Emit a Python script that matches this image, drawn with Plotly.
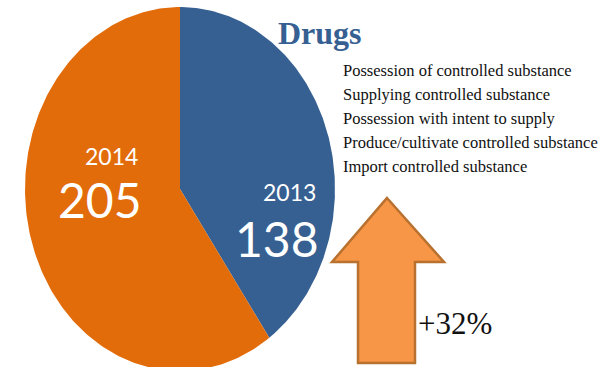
import numpy as np
import plotly.graph_objects as go

# Offence counts by year
years = ["2013", "2014"]
counts = [138, 205]
slice_colors = ["#366092", "#E36C0A"]

offence_types = [
    "Possession of controlled substance",
    "Supplying controlled substance",
    "Possession with intent to supply",
    "Produce/cultivate controlled substance",
    "Import controlled substance",
]
change_label = "+32%"
title_text = "Drugs"

W, H = 616, 367
# pie centre and radii in pixels (slightly taller than wide)
CX, CY, RX, RY = 180, 189, 155, 182


def px(x):
    return x / W


def py(y):
    return 1 - y / H


fig = go.Figure()

# pie slices: unit circle in data space, clockwise from 12 o'clock;
# the axis scaling stretches it into the ellipse
total = sum(counts)
start = 0.0
for year, n, col in zip(years, counts, slice_colors):
    frac = n / total
    th = np.linspace(start, start + frac, 200) * 2 * np.pi
    xs = np.concatenate([[0], np.sin(th), [0]])
    ys = np.concatenate([[0], np.cos(th), [0]])
    fig.add_trace(go.Scatter(x=xs, y=ys, fill="toself", mode="lines",
                             fillcolor=col, line=dict(width=0, color=col),
                             name=year, hoverinfo="skip"))
    start += frac

fig.update_xaxes(range=[(0 - CX) / RX, (W - CX) / RX], visible=False,
                 fixedrange=True)
fig.update_yaxes(range=[-(H - CY) / RY, CY / RY], visible=False,
                 fixedrange=True)

ann = []
label_font = "Lato, Carlito, Calibri, sans-serif"
# year / count labels inside slices
ann.append(dict(x=px(111), y=py(156), text=years[1],
                font=dict(family=label_font, size=23, color="white")))
ann.append(dict(x=px(100), y=py(199), text=str(counts[1]),
                font=dict(family=label_font, size=48, color="white")))
ann.append(dict(x=px(289), y=py(192), text=years[0],
                font=dict(family=label_font, size=23, color="white")))
ann.append(dict(x=px(277), y=py(238), text=str(counts[0]),
                font=dict(family=label_font, size=48, color="white")))

# title
ann.append(dict(x=px(276), y=py(33), text="<b>" + title_text + "</b>",
                xanchor="left",
                font=dict(family="Liberation Serif, Times New Roman, serif",
                          size=32, color="#366092")))

# offence list
for i, t in enumerate(offence_types):
    ann.append(dict(x=px(341), y=py(70 + 24.2 * i), text=t, xanchor="left",
                    font=dict(family="Liberation Serif, Times New Roman, serif",
                              size=16.5, color="#111111")))

# change label
ann.append(dict(x=px(416), y=py(323), text=change_label, xanchor="left",
                font=dict(family="Liberation Serif, Times New Roman, serif",
                          size=31, color="#111111")))

for a in ann:
    a.update(xref="paper", yref="paper", showarrow=False,
             yanchor=a.get("yanchor", "middle"),
             xanchor=a.get("xanchor", "center"))

# up arrow
pts = [(387, 198), (444, 262), (415, 262), (415, 363), (358, 363),
       (358, 262), (332, 262)]
path = "M " + " L ".join(f"{px(x):.5f},{py(y):.5f}" for x, y in pts) + " Z"
shapes = [dict(type="path", xref="paper", yref="paper", path=path,
               fillcolor="#F79646", line=dict(color="#B8712F", width=2.5),
               layer="below")]

fig.update_layout(width=W, height=H, margin=dict(l=0, r=0, t=0, b=0),
                  paper_bgcolor="white", plot_bgcolor="white",
                  showlegend=False, annotations=ann, shapes=shapes)

fig.write_html("out.html", config={"displayModeBar": False})
